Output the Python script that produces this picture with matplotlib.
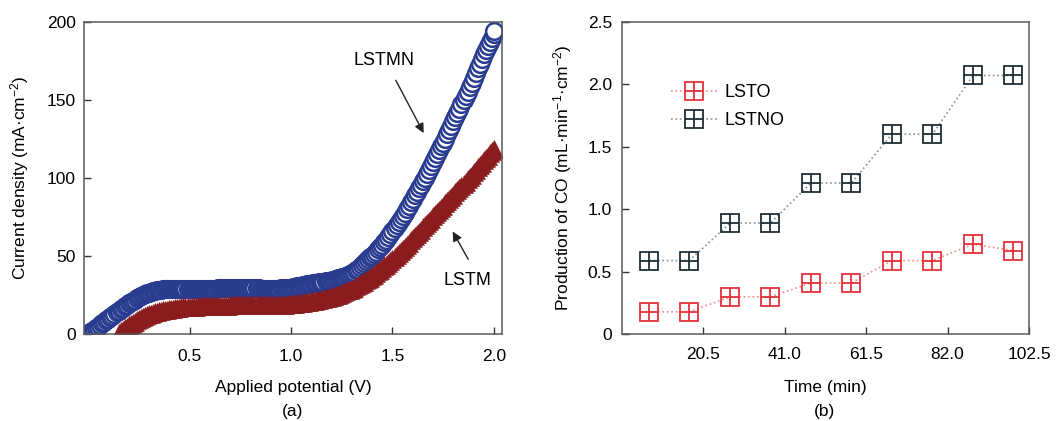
import matplotlib
matplotlib.use('Agg')
import matplotlib.pyplot as plt

plt.rcParams['font.family'] = ['Liberation Sans', 'DejaVu Sans']
plt.rcParams['mathtext.fontset'] = 'custom'
plt.rcParams['mathtext.rm'] = 'Liberation Sans'
plt.rcParams['mathtext.it'] = 'Liberation Sans:italic'
plt.rcParams['mathtext.bf'] = 'Liberation Sans:bold'

# (a) polarisation curves, every 0.01 V
lstmn_v = [
    0.00, 0.01, 0.02, 0.03, 0.04, 0.05, 0.06, 0.07, 0.08, 0.09,
    0.10, 0.11, 0.12, 0.13, 0.14, 0.15, 0.16, 0.17, 0.18, 0.19,
    0.20, 0.21, 0.22, 0.23, 0.24, 0.25, 0.26, 0.27, 0.28, 0.29,
    0.30, 0.31, 0.32, 0.33, 0.34, 0.35, 0.36, 0.37, 0.38, 0.39,
    0.40, 0.41, 0.42, 0.43, 0.44, 0.45, 0.46, 0.47, 0.48, 0.49,
    0.50, 0.51, 0.52, 0.53, 0.54, 0.55, 0.56, 0.57, 0.58, 0.59,
    0.60, 0.61, 0.62, 0.63, 0.64, 0.65, 0.66, 0.67, 0.68, 0.69,
    0.70, 0.71, 0.72, 0.73, 0.74, 0.75, 0.76, 0.77, 0.78, 0.79,
    0.80, 0.81, 0.82, 0.83, 0.84, 0.85, 0.86, 0.87, 0.88, 0.89,
    0.90, 0.91, 0.92, 0.93, 0.94, 0.95, 0.96, 0.97, 0.98, 0.99,
    1.00, 1.01, 1.02, 1.03, 1.04, 1.05, 1.06, 1.07, 1.08, 1.09,
    1.10, 1.11, 1.12, 1.13, 1.14, 1.15, 1.16, 1.17, 1.18, 1.19,
    1.20, 1.21, 1.22, 1.23, 1.24, 1.25, 1.26, 1.27, 1.28, 1.29,
    1.30, 1.31, 1.32, 1.33, 1.34, 1.35, 1.36, 1.37, 1.38, 1.39,
    1.40, 1.41, 1.42, 1.43, 1.44, 1.45, 1.46, 1.47, 1.48, 1.49,
    1.50, 1.51, 1.52, 1.53, 1.54, 1.55, 1.56, 1.57, 1.58, 1.59,
    1.60, 1.61, 1.62, 1.63, 1.64, 1.65, 1.66, 1.67, 1.68, 1.69,
    1.70, 1.71, 1.72, 1.73, 1.74, 1.75, 1.76, 1.77, 1.78, 1.79,
    1.80, 1.81, 1.82, 1.83, 1.84, 1.85, 1.86, 1.87, 1.88, 1.89,
    1.90, 1.91, 1.92, 1.93, 1.94, 1.95, 1.96, 1.97, 1.98, 1.99,
    2.00, 2.00]
lstmn_j = [
    0, 0.7, 1.5, 2.5, 3.5, 4.5, 5.5, 6.5, 7.5, 8.5,
    9.5, 10.5, 11.5, 12.5, 13.5, 14.5, 15.5, 16.5, 17.5, 18.5,
    19.3, 20.2, 21, 21.8, 22.5, 23.2, 24, 24.6, 25.2, 25.8,
    26.3, 26.8, 27.2, 27.5, 27.8, 28, 28.2, 28.4, 28.5, 28.5,
    28.5, 28.5, 28.5, 28.5, 28.5, 28.5, 28.5, 28.5, 28.5, 28.5,
    28.5, 28.5, 28.5, 28.5, 28.5, 28.5, 28.5, 28.5, 28.5, 28.5,
    28.5, 28.5, 28.5, 28.5, 29, 29, 29, 29, 29, 29,
    29, 29, 29, 29, 29, 29, 29, 29, 29, 29,
    29, 29, 29, 29, 29, 28.5, 28.5, 28.5, 28.5, 28.5,
    28.5, 28.5, 28.5, 28.5, 28.5, 29, 29, 29, 29, 29,
    29.5, 29.7, 30, 30.2, 30.5, 30.8, 31, 31.2, 31.5, 31.7,
    32, 32.2, 32.4, 32.6, 32.8, 33, 33.2, 33.5, 33.8, 34,
    34.3, 34.6, 35, 35.3, 35.7, 36.1, 36.5, 37, 37.5, 38,
    38.5, 39.5, 40.5, 41.5, 42.5, 43.8, 45, 46.2, 47.5, 48.8,
    50, 51.2, 52.5, 54, 55.5, 57, 58.5, 60.2, 62, 63.8,
    65.5, 67.5, 69.5, 71.5, 73.5, 75.5, 77.5, 79.8, 82, 84.2,
    86.5, 88.8, 91, 93.2, 95.5, 97.8, 100, 102.5, 105, 107.5,
    110, 112.5, 115, 117.5, 120, 122.5, 125, 127.8, 130.5, 133.2,
    136, 138.8, 141.5, 144.2, 147, 149.8, 152.5, 155.2, 158, 161,
    164, 167, 170, 173, 176, 179, 182, 184.5, 187, 189.5,
    192, 194]

lstm_v = [
    0.15, 0.16, 0.17, 0.18, 0.19,
    0.20, 0.21, 0.22, 0.23, 0.24, 0.25, 0.26, 0.27, 0.28, 0.29,
    0.30, 0.31, 0.32, 0.33, 0.34, 0.35, 0.36, 0.37, 0.38, 0.39,
    0.40, 0.41, 0.42, 0.43, 0.44, 0.45, 0.46, 0.47, 0.48, 0.49,
    0.50, 0.51, 0.52, 0.53, 0.54, 0.55, 0.56, 0.57, 0.58, 0.59,
    0.60, 0.61, 0.62, 0.63, 0.64, 0.65, 0.66, 0.67, 0.68, 0.69,
    0.70, 0.71, 0.72, 0.73, 0.74, 0.75, 0.76, 0.77, 0.78, 0.79,
    0.80, 0.81, 0.82, 0.83, 0.84, 0.85, 0.86, 0.87, 0.88, 0.89,
    0.90, 0.91, 0.92, 0.93, 0.94, 0.95, 0.96, 0.97, 0.98, 0.99,
    1.00, 1.01, 1.02, 1.03, 1.04, 1.05, 1.06, 1.07, 1.08, 1.09,
    1.10, 1.11, 1.12, 1.13, 1.14, 1.15, 1.16, 1.17, 1.18, 1.19,
    1.20, 1.21, 1.22, 1.23, 1.24, 1.25, 1.26, 1.27, 1.28, 1.29,
    1.30, 1.31, 1.32, 1.33, 1.34, 1.35, 1.36, 1.37, 1.38, 1.39,
    1.40, 1.41, 1.42, 1.43, 1.44, 1.45, 1.46, 1.47, 1.48, 1.49,
    1.50, 1.51, 1.52, 1.53, 1.54, 1.55, 1.56, 1.57, 1.58, 1.59,
    1.60, 1.61, 1.62, 1.63, 1.64, 1.65, 1.66, 1.67, 1.68, 1.69,
    1.70, 1.71, 1.72, 1.73, 1.74, 1.75, 1.76, 1.77, 1.78, 1.79,
    1.80, 1.81, 1.82, 1.83, 1.84, 1.85, 1.86, 1.87, 1.88, 1.89,
    1.90, 1.91, 1.92, 1.93, 1.94, 1.95, 1.96, 1.97, 1.98, 1.99,
    2.00]
lstm_j = [
    0.5, 1.5, 2.5, 3.5, 4.5,
    5.3, 6.1, 6.9, 7.7, 8.5, 9.2, 9.9, 10.5, 11.1, 11.7,
    12.2, 12.7, 13.1, 13.5, 13.9, 14.2, 14.5, 14.8, 15.1, 15.4,
    15.6, 15.8, 16, 16.2, 16.4, 16.6, 16.8, 17, 17, 17,
    17.2, 17.2, 17.3, 17.3, 17.4, 17.4, 17.5, 17.5, 17.5, 17.5,
    17.5, 17.5, 17.6, 17.6, 17.7, 17.7, 17.8, 17.8, 17.9, 17.9,
    18, 18, 18, 18, 18, 18.2, 18.2, 18.3, 18.3, 18.4,
    18.5, 18.5, 18.5, 18.5, 18.5, 18.5, 18.5, 18.5, 18.5, 18.5,
    18.5, 18.5, 18.5, 18.5, 18.5, 18.5, 18.5, 18.6, 18.8, 18.9,
    19, 19, 19.2, 19.3, 19.5, 19.6, 19.8, 20, 20.2, 20.4,
    20.6, 20.8, 21, 21.3, 21.6, 21.9, 22.2, 22.5, 22.9, 23.3,
    23.7, 24.1, 24.5, 25, 25.5, 26, 26.5, 27, 27.6, 28.2,
    28.8, 29.5, 30.2, 30.9, 31.7, 32.5, 33.3, 34.1, 35, 35.9,
    36.8, 37.8, 38.8, 39.8, 40.8, 41.9, 43, 44.1, 45.2, 46.4,
    47.6, 48.9, 50.2, 51.5, 52.8, 54.1, 55.5, 56.9, 58.3, 59.7,
    61.1, 62.5, 63.9, 65.3, 66.7, 68.1, 69.5, 70.9, 72.3, 73.7,
    75.1, 76.5, 77.9, 79.3, 80.7, 82.1, 83.5, 84.9, 86.3, 87.7,
    89.1, 90.5, 91.9, 93.3, 94.7, 96.1, 97.5, 98.9, 100.3, 101.7,
    103.5, 105, 106.5, 108, 109.5, 111, 112.5, 114, 115.5, 117,
    118.5]

# (b) CO production
time_min = [6.9, 17.0, 27.3, 37.4, 47.6, 57.8, 68.0, 78.2, 88.4, 98.6]
lsto = [0.18, 0.18, 0.30, 0.30, 0.41, 0.41, 0.59, 0.59, 0.72, 0.67]
lstno = [0.59, 0.59, 0.89, 0.89, 1.21, 1.21, 1.60, 1.60, 2.07, 2.07]

a_xticks = [0.5, 1.0, 1.5, 2.0]
a_xticklabels = ['0.5', '1.0', '1.5', '2.0']
a_yticks = [0, 50, 100, 150, 200]
b_xticks = [20.5, 41.0, 61.5, 82.0, 102.5]
b_xticklabels = ['20.5', '41.0', '61.5', '82.0', '102.5']
b_yticks = [0, 0.5, 1.0, 1.5, 2.0, 2.5]
b_yticklabels = ['0', '0.5', '1.0', '1.5', '2.0', '2.5']

fig = plt.figure(figsize=(10.57, 4.21), dpi=100)
ax1 = fig.add_axes([0.0795, 0.2078, 0.3955, 0.7406])
ax2 = fig.add_axes([0.5882, 0.2059, 0.3853, 0.7425])

for ax in (ax1, ax2):
    for s in ax.spines.values():
        s.set_color('#5a5a5a')
        s.set_linewidth(1.1)
    ax.tick_params(direction='in', length=5, width=1, color='#333333',
                   labelsize=12.5, top=False, right=False)

# panel (a)
ax1.plot(lstmn_v, lstmn_j, linestyle='none', marker='o', ms=12,
         mfc='white', mec='#2a3c90', mew=1.8)
ax1.plot(lstm_v, lstm_j, linestyle='none', marker='^', ms=13,
         mfc='#8a1c1e', mec='#8a1c1e', mew=0.4)
ax1.set_xlim(-0.02, 2.04)
ax1.set_ylim(0, 200)
ax1.set_xticks(a_xticks)
ax1.set_xticklabels(a_xticklabels)
ax1.set_yticks(a_yticks)
ax1.tick_params(axis='x', pad=11)
ax1.tick_params(axis='y', pad=6)
ax1.set_xlabel('Applied potential (V)', fontsize=12.5, labelpad=12)
ax1.set_ylabel('Current density (mA·cm$^{-2}$)', fontsize=12.5, labelpad=11)

ax1.text(1.46, 175, 'LSTMN', fontsize=13, ha='center', va='center')
ax1.annotate('', xy=(1.66, 127), xytext=(1.51, 164),
             arrowprops=dict(arrowstyle='-|>', color='#222222', lw=1.0,
                             mutation_scale=14))
ax1.text(1.87, 34, 'LSTM', fontsize=13, ha='center', va='center')
ax1.annotate('', xy=(1.79, 67), xytext=(1.88, 46),
             arrowprops=dict(arrowstyle='-|>', color='#222222', lw=1.0,
                             mutation_scale=14))

# panel (b)
l1, = ax2.plot(time_min, lsto, linestyle=':', color='#f08a8a', lw=1.2,
               marker='s', ms=13, mfc='none', mec='#e5323c', mew=1.3)
p1, = ax2.plot(time_min, lsto, linestyle='none', marker='+', ms=13,
               mec='#e5323c', mew=1.3)
l2, = ax2.plot(time_min, lstno, linestyle=':', color='#8a9096', lw=1.2,
               marker='s', ms=13, mfc='none', mec='#1f2e36', mew=1.3)
p2, = ax2.plot(time_min, lstno, linestyle='none', marker='+', ms=13,
               mec='#1f2e36', mew=1.3)
ax2.set_xlim(0, 102.5)
ax2.set_ylim(0, 2.5)
ax2.set_xticks(b_xticks)
ax2.set_xticklabels(b_xticklabels)
ax2.set_yticks(b_yticks)
ax2.set_yticklabels(b_yticklabels)
ax2.tick_params(axis='x', pad=9)
ax2.tick_params(axis='y', pad=7)
ax2.set_xlabel('Time (min)', fontsize=12.5, labelpad=13)
ax2.set_ylabel('Production of CO (mL·min$^{-1}$·cm$^{-2}$)', fontsize=12.5,
               labelpad=10)
ax2.legend([(l1, p1), (l2, p2)], ['LSTO', 'LSTNO'], loc='upper left',
           bbox_to_anchor=(0.08, 0.853), frameon=False, fontsize=13,
           handlelength=2.6, handletextpad=0.4, labelspacing=0.62)

fig.text(0.2765, 0.004, '(a)', ha='center', va='bottom', fontsize=12.5)
fig.text(0.7805, 0.004, '(b)', ha='center', va='bottom', fontsize=12.5)

plt.savefig('out.png', dpi=100)
